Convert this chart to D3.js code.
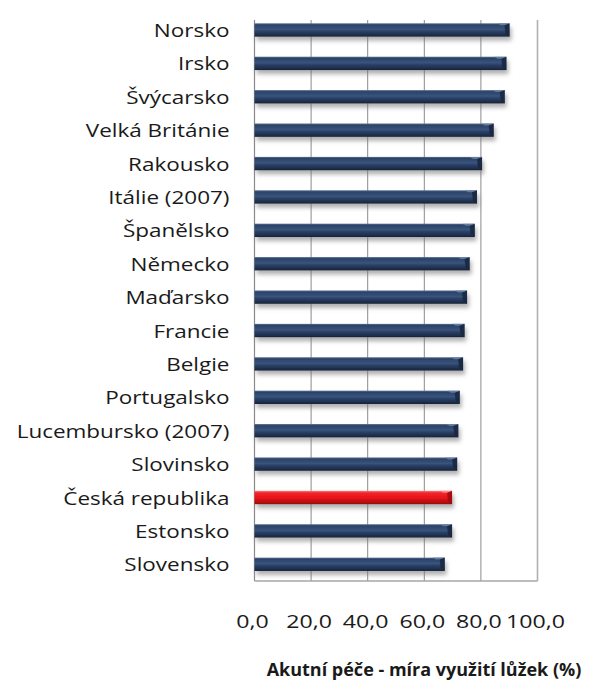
<!DOCTYPE html>
<html>
<head>
<meta charset="utf-8">
<script src="https://cdn.jsdelivr.net/npm/d3@7"></script>
<style>
  html, body { margin: 0; padding: 0; background: #fff; }
  svg { display: block; }
  text { font-family: "Open Sans", Lato, sans-serif; fill: #1a1a1a; }
</style>
</head>
<body>
<svg id="chart" width="589" height="693"></svg>
<script>
// Acute care bed occupancy rate (%) by country
const countries = [
  "Norsko", "Irsko", "Švýcarsko", "Velká Británie", "Rakousko",
  "Itálie (2007)", "Španělsko", "Německo", "Maďarsko", "Francie",
  "Belgie", "Portugalsko", "Lucembursko (2007)", "Slovinsko",
  "Česká republika", "Estonsko", "Slovensko"
];
const occupancy = [
  90.1, 89.0, 88.4, 84.5, 80.4,
  78.6, 77.8, 76.0, 75.1, 74.2,
  73.7, 72.5, 72.0, 71.6,
  69.8, 69.8, 67.2
];
const highlighted = ["Česká republika"];
const tickValues = [0, 20, 40, 60, 80, 100];
const tickLabels = ["0,0", "20,0", "40,0", "60,0", "80,0", "100,0"];
const axisTitle = "Akutní péče - míra využití lůžek (%)";

const rows = countries.map((c, i) => ({ country: c, value: occupancy[i] }));

const svg = d3.select("#chart");
const plot = { left: 254.5, right: 537.5, top: 20, bottom: 581 };
const textStretch = 1.285;   // wide rendering of the label type

const x = d3.scaleLinear().domain([0, 100]).range([plot.left, plot.right]);
const y = d3.scaleBand().domain(countries).range([13.3, plot.bottom]).paddingInner(0.6).paddingOuter(0.3);

const defs = svg.append("defs");

function barGradient(id, stops) {
  const g = defs.append("linearGradient").attr("id", id)
    .attr("x1", 0).attr("y1", 0).attr("x2", 0).attr("y2", 1);
  stops.forEach(([o, c]) => g.append("stop").attr("offset", o).attr("stop-color", c));
}
barGradient("navy", [[0, "#5a7196"], [0.12, "#2c4266"], [0.45, "#38547e"], [0.6, "#2b4166"], [0.9, "#1b2b47"], [1, "#16233a"]]);
barGradient("red", [[0, "#ff7a7a"], [0.15, "#f2262b"], [0.5, "#e8141b"], [0.85, "#b80c10"], [1, "#8f0a0c"]]);

const shadow = defs.append("filter").attr("id", "shadow")
  .attr("x", "-5%").attr("y", "-60%").attr("width", "115%").attr("height", "260%");
shadow.append("feDropShadow").attr("dx", 2).attr("dy", 4).attr("stdDeviation", 2.2)
  .attr("flood-color", "#6f6f6f").attr("flood-opacity", 0.55);

// Vertical gridlines
svg.append("g").selectAll("line")
  .data(tickValues.filter(v => v > 0 && v < 100))
  .join("line")
  .attr("x1", d => x(d)).attr("x2", d => x(d))
  .attr("y1", plot.top).attr("y2", plot.bottom)
  .attr("stroke", "#8a8a8a").attr("stroke-width", 1);

// Plot frame: left axis, bottom and right border
svg.append("line").attr("x1", x(0)).attr("x2", x(0)).attr("y1", plot.top).attr("y2", plot.bottom)
  .attr("stroke", "#8a8a8a").attr("stroke-width", 1.2);
svg.append("line").attr("x1", x(0)).attr("x2", x(100)).attr("y1", plot.bottom).attr("y2", plot.bottom)
  .attr("stroke", "#a6a6a6").attr("stroke-width", 1.6);
svg.append("line").attr("x1", x(100)).attr("x2", x(100)).attr("y1", plot.top).attr("y2", plot.bottom)
  .attr("stroke", "#b0b0b0").attr("stroke-width", 1.6);

// Bars
const bars = svg.append("g").selectAll("g").data(rows).join("g");
bars.append("rect")
  .attr("x", x(0))
  .attr("y", d => y(d.country))
  .attr("width", d => x(d.value) - x(0))
  .attr("height", y.bandwidth())
  .attr("fill", d => highlighted.includes(d.country) ? "url(#red)" : "url(#navy)")
  .attr("filter", "url(#shadow)");
// Bevelled right end
bars.append("path")
  .attr("d", d => {
    const x1 = x(d.value), y0 = y(d.country), h = y.bandwidth();
    return `M${x1 - 5},${y0 + 2}L${x1},${y0}L${x1},${y0 + h}L${x1 - 4},${y0 + h - 3}Z`;
  })
  .attr("fill", d => highlighted.includes(d.country) ? "#9e0b0e" : "#1a2740")
  .attr("opacity", 0.9);
bars.append("path")
  .attr("d", d => {
    const x1 = x(d.value), y0 = y(d.country);
    return `M${x1 - 9},${y0 + 2}L${x1 - 5},${y0 + 2}L${x1},${y0}L${x1 - 12},${y0}Z`;
  })
  .attr("fill", d => highlighted.includes(d.country) ? "#ff8b8b" : "#6d84a8")
  .attr("opacity", 0.8);

// Category labels (right-aligned, stretched horizontally)
svg.append("g").selectAll("text").data(countries).join("text")
  .attr("transform", d => `translate(${x(0) - 25},${y(d) + y.bandwidth() / 2}) scale(${textStretch},1)`)
  .attr("text-anchor", "end")
  .attr("dy", "0.4em")
  .attr("font-size", 17.5)
  .text(d => d);

// Value axis labels
const xAxis = d3.axisBottom(x).tickValues(tickValues).tickFormat((d, i) => tickLabels[i]).tickSize(0).tickPadding(0);
svg.append("g").attr("transform", `translate(-2.5,628)`).call(xAxis)
  .call(g => g.select(".domain").remove())
  .call(g => g.selectAll("text")
    .attr("y", 0).attr("dy", 0)
    .attr("transform", `scale(${textStretch},1)`)
    .attr("x", 0)
    .attr("font-family", "'Open Sans', Lato, sans-serif")
    .attr("font-size", 18).attr("fill", "#1a1a1a"));

// Axis title
svg.append("text")
  .attr("x", 424).attr("y", 676)
  .attr("text-anchor", "middle")
  .attr("font-size", 18).attr("font-weight", "bold")
  .attr("fill", "#111")
  .text(axisTitle);
</script>
</body>
</html>
